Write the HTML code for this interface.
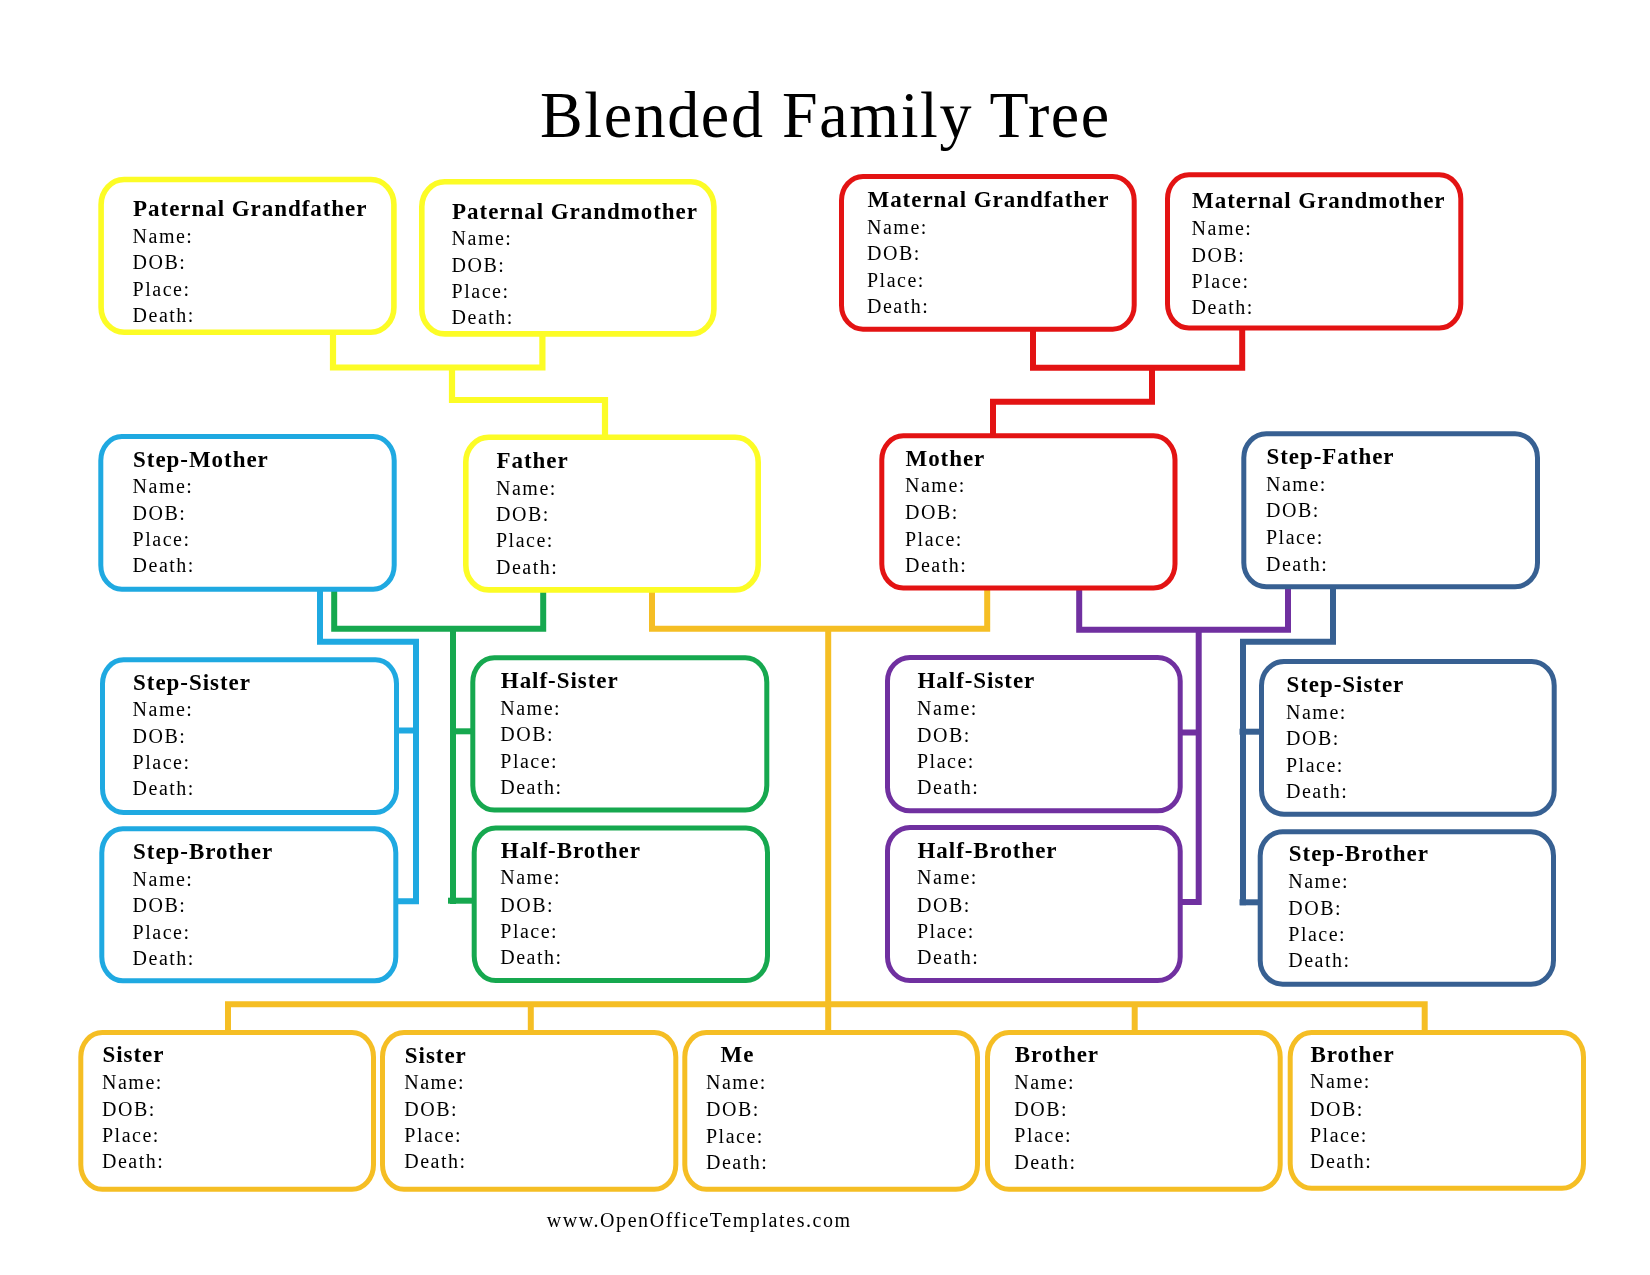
<!DOCTYPE html>
<html><head><meta charset="utf-8"><title>Blended Family Tree</title>
<style>
html,body{margin:0;padding:0;background:#fff;}
body{width:1650px;height:1275px;position:relative;overflow:hidden;font-family:"Liberation Serif",serif;color:#000;}
svg{position:absolute;left:0;top:0;}
#txt{position:absolute;left:0;top:0;width:1650px;height:1275px;will-change:transform;}
.t{position:absolute;white-space:nowrap;}
</style></head><body>
<svg width="1650" height="1275" viewBox="0 0 1650 1275" fill="none" stroke-linejoin="miter" stroke-linecap="butt">
<polyline points="333.0,333.0 333.0,367.5 542.4,367.5 542.4,334.0" stroke="#fcfc26" stroke-width="6.2"/>
<polyline points="452.0,367.5 452.0,400.0 605.0,400.0 605.0,437.0" stroke="#fcfc26" stroke-width="6.2"/>
<polyline points="1033.0,329.0 1033.0,367.8 1242.2,367.8 1242.2,328.0" stroke="#e31313" stroke-width="6.0"/>
<polyline points="1152.0,367.8 1152.0,401.7 993.0,401.7 993.0,436.0" stroke="#e31313" stroke-width="6.0"/>
<polyline points="320.0,589.0 320.0,641.7 416.0,641.7 416.0,901.3 396.0,901.3" stroke="#1fa9e1" stroke-width="6.0"/>
<polyline points="397.0,730.5 416.0,730.5" stroke="#1fa9e1" stroke-width="6.0"/>
<polyline points="334.2,589.0 334.2,628.8 543.2,628.8 543.2,586.7" stroke="#16a84f" stroke-width="6.0"/>
<polyline points="453.0,628.8 453.0,904.0" stroke="#16a84f" stroke-width="6.0"/>
<polyline points="448.0,900.7 474.0,900.7" stroke="#16a84f" stroke-width="6.0"/>
<polyline points="453.0,731.3 473.0,731.3" stroke="#16a84f" stroke-width="6.0"/>
<polyline points="652.0,590.0 652.0,628.8 987.2,628.8 987.2,588.0" stroke="#f5be24" stroke-width="6.0"/>
<polyline points="828.2,628.8 828.2,1033.0" stroke="#f5be24" stroke-width="6.0"/>
<polyline points="228.0,1033.0 228.0,1004.2 1424.7,1004.2 1424.7,1033.0" stroke="#f5be24" stroke-width="6.0"/>
<polyline points="530.8,1004.2 530.8,1033.0" stroke="#f5be24" stroke-width="6.0"/>
<polyline points="1134.7,1004.2 1134.7,1033.0" stroke="#f5be24" stroke-width="6.0"/>
<polyline points="1079.2,588.0 1079.2,629.7 1288.0,629.7 1288.0,587.0" stroke="#7030a0" stroke-width="6.0"/>
<polyline points="1198.7,629.7 1198.7,902.0 1180.0,902.0" stroke="#7030a0" stroke-width="6.0"/>
<polyline points="1180.0,732.5 1198.7,732.5" stroke="#7030a0" stroke-width="6.0"/>
<polyline points="1333.0,587.0 1333.0,641.7 1243.0,641.7 1243.0,905.3" stroke="#376092" stroke-width="6.0"/>
<polyline points="1239.5,902.3 1260.0,902.3" stroke="#376092" stroke-width="6.0"/>
<polyline points="1239.5,731.7 1261.0,731.7" stroke="#376092" stroke-width="6.0"/>
<rect x="101.10" y="179.50" width="292.80" height="152.70" rx="23" ry="25" stroke="#fcfc26" stroke-width="5.6" fill="#fff"/>
<rect x="421.80" y="181.80" width="292.10" height="152.10" rx="23" ry="25" stroke="#fcfc26" stroke-width="5.6" fill="#fff"/>
<rect x="841.50" y="176.50" width="292.70" height="152.70" rx="21.5" ry="24" stroke="#e31313" stroke-width="5.0" fill="#fff"/>
<rect x="1167.50" y="174.80" width="293.30" height="153.20" rx="21.5" ry="24" stroke="#e31313" stroke-width="5.0" fill="#fff"/>
<rect x="100.80" y="436.50" width="293.40" height="152.70" rx="21" ry="24" stroke="#1fa9e1" stroke-width="5.0" fill="#fff"/>
<rect x="465.80" y="437.30" width="292.40" height="152.60" rx="23" ry="25" stroke="#fcfc26" stroke-width="5.6" fill="#fff"/>
<rect x="881.80" y="435.80" width="293.20" height="152.20" rx="21.5" ry="24" stroke="#e31313" stroke-width="5.0" fill="#fff"/>
<rect x="1243.80" y="433.80" width="293.70" height="153.00" rx="22.5" ry="24" stroke="#376092" stroke-width="5.0" fill="#fff"/>
<rect x="102.50" y="659.80" width="294.00" height="152.70" rx="21" ry="24" stroke="#1fa9e1" stroke-width="5.0" fill="#fff"/>
<rect x="472.80" y="657.80" width="294.00" height="152.30" rx="21.5" ry="24.5" stroke="#16a84f" stroke-width="5.0" fill="#fff"/>
<rect x="887.50" y="657.50" width="292.70" height="153.30" rx="22.5" ry="23.5" stroke="#7030a0" stroke-width="5.0" fill="#fff"/>
<rect x="1261.50" y="661.50" width="292.70" height="152.70" rx="22.5" ry="24" stroke="#376092" stroke-width="5.0" fill="#fff"/>
<rect x="101.80" y="828.70" width="294.00" height="152.10" rx="21" ry="24" stroke="#1fa9e1" stroke-width="5.0" fill="#fff"/>
<rect x="474.20" y="828.00" width="293.30" height="152.50" rx="21.5" ry="24.5" stroke="#16a84f" stroke-width="5.0" fill="#fff"/>
<rect x="887.50" y="827.50" width="292.70" height="153.00" rx="22.5" ry="23.5" stroke="#7030a0" stroke-width="5.0" fill="#fff"/>
<rect x="1260.20" y="831.80" width="293.30" height="152.40" rx="22.5" ry="24" stroke="#376092" stroke-width="5.0" fill="#fff"/>
<rect x="80.80" y="1032.50" width="292.70" height="156.70" rx="21.5" ry="24.5" stroke="#f5be24" stroke-width="5.0" fill="#fff"/>
<rect x="382.50" y="1032.50" width="293.30" height="156.70" rx="21.5" ry="24.5" stroke="#f5be24" stroke-width="5.0" fill="#fff"/>
<rect x="684.80" y="1032.50" width="292.70" height="156.70" rx="21.5" ry="24.5" stroke="#f5be24" stroke-width="5.0" fill="#fff"/>
<rect x="987.50" y="1032.50" width="292.70" height="156.70" rx="21.5" ry="24.5" stroke="#f5be24" stroke-width="5.0" fill="#fff"/>
<rect x="1290.20" y="1032.50" width="293.30" height="155.70" rx="21.5" ry="24.5" stroke="#f5be24" stroke-width="5.0" fill="#fff"/>
</svg>
<div id="txt">
<div class="t" style="left:540.00px;top:84.40px;font-size:64px;line-height:64px;letter-spacing:1.6px;transform-origin:0 53.5px;transform:scaleY(1.024);">Blended Family Tree</div>
<div class="t" style="left:133.10px;top:196.74px;font-size:23px;line-height:23px;letter-spacing:0.95px;font-weight:bold;">Paternal Grandfather</div>
<div class="t" style="left:132.60px;top:226.25px;font-size:20px;line-height:20px;letter-spacing:1.5px;">Name:</div>
<div class="t" style="left:132.60px;top:252.25px;font-size:20px;line-height:20px;letter-spacing:1.5px;">DOB:</div>
<div class="t" style="left:132.60px;top:279.25px;font-size:20px;line-height:20px;letter-spacing:1.5px;">Place:</div>
<div class="t" style="left:132.60px;top:305.25px;font-size:20px;line-height:20px;letter-spacing:1.5px;">Death:</div>
<div class="t" style="left:452.10px;top:199.74px;font-size:23px;line-height:23px;letter-spacing:0.95px;font-weight:bold;">Paternal Grandmother</div>
<div class="t" style="left:451.60px;top:228.25px;font-size:20px;line-height:20px;letter-spacing:1.5px;">Name:</div>
<div class="t" style="left:451.60px;top:255.25px;font-size:20px;line-height:20px;letter-spacing:1.5px;">DOB:</div>
<div class="t" style="left:451.60px;top:281.25px;font-size:20px;line-height:20px;letter-spacing:1.5px;">Place:</div>
<div class="t" style="left:451.60px;top:307.25px;font-size:20px;line-height:20px;letter-spacing:1.5px;">Death:</div>
<div class="t" style="left:867.50px;top:187.74px;font-size:23px;line-height:23px;letter-spacing:0.95px;font-weight:bold;">Maternal Grandfather</div>
<div class="t" style="left:867.00px;top:217.25px;font-size:20px;line-height:20px;letter-spacing:1.5px;">Name:</div>
<div class="t" style="left:867.00px;top:243.25px;font-size:20px;line-height:20px;letter-spacing:1.5px;">DOB:</div>
<div class="t" style="left:867.00px;top:270.25px;font-size:20px;line-height:20px;letter-spacing:1.5px;">Place:</div>
<div class="t" style="left:867.00px;top:296.25px;font-size:20px;line-height:20px;letter-spacing:1.5px;">Death:</div>
<div class="t" style="left:1192.10px;top:188.74px;font-size:23px;line-height:23px;letter-spacing:0.95px;font-weight:bold;">Maternal Grandmother</div>
<div class="t" style="left:1191.60px;top:218.25px;font-size:20px;line-height:20px;letter-spacing:1.5px;">Name:</div>
<div class="t" style="left:1191.60px;top:245.25px;font-size:20px;line-height:20px;letter-spacing:1.5px;">DOB:</div>
<div class="t" style="left:1191.60px;top:271.25px;font-size:20px;line-height:20px;letter-spacing:1.5px;">Place:</div>
<div class="t" style="left:1191.60px;top:297.25px;font-size:20px;line-height:20px;letter-spacing:1.5px;">Death:</div>
<div class="t" style="left:133.10px;top:447.74px;font-size:23px;line-height:23px;letter-spacing:0.95px;font-weight:bold;">Step-Mother</div>
<div class="t" style="left:132.60px;top:476.25px;font-size:20px;line-height:20px;letter-spacing:1.5px;">Name:</div>
<div class="t" style="left:132.60px;top:503.25px;font-size:20px;line-height:20px;letter-spacing:1.5px;">DOB:</div>
<div class="t" style="left:132.60px;top:529.25px;font-size:20px;line-height:20px;letter-spacing:1.5px;">Place:</div>
<div class="t" style="left:132.60px;top:555.25px;font-size:20px;line-height:20px;letter-spacing:1.5px;">Death:</div>
<div class="t" style="left:496.50px;top:448.74px;font-size:23px;line-height:23px;letter-spacing:0.95px;font-weight:bold;">Father</div>
<div class="t" style="left:496.00px;top:478.25px;font-size:20px;line-height:20px;letter-spacing:1.5px;">Name:</div>
<div class="t" style="left:496.00px;top:504.25px;font-size:20px;line-height:20px;letter-spacing:1.5px;">DOB:</div>
<div class="t" style="left:496.00px;top:530.25px;font-size:20px;line-height:20px;letter-spacing:1.5px;">Place:</div>
<div class="t" style="left:496.00px;top:557.25px;font-size:20px;line-height:20px;letter-spacing:1.5px;">Death:</div>
<div class="t" style="left:905.50px;top:446.74px;font-size:23px;line-height:23px;letter-spacing:0.95px;font-weight:bold;">Mother</div>
<div class="t" style="left:905.00px;top:475.25px;font-size:20px;line-height:20px;letter-spacing:1.5px;">Name:</div>
<div class="t" style="left:905.00px;top:502.25px;font-size:20px;line-height:20px;letter-spacing:1.5px;">DOB:</div>
<div class="t" style="left:905.00px;top:529.25px;font-size:20px;line-height:20px;letter-spacing:1.5px;">Place:</div>
<div class="t" style="left:905.00px;top:555.25px;font-size:20px;line-height:20px;letter-spacing:1.5px;">Death:</div>
<div class="t" style="left:1266.50px;top:444.74px;font-size:23px;line-height:23px;letter-spacing:0.95px;font-weight:bold;">Step-Father</div>
<div class="t" style="left:1266.00px;top:474.25px;font-size:20px;line-height:20px;letter-spacing:1.5px;">Name:</div>
<div class="t" style="left:1266.00px;top:500.25px;font-size:20px;line-height:20px;letter-spacing:1.5px;">DOB:</div>
<div class="t" style="left:1266.00px;top:527.25px;font-size:20px;line-height:20px;letter-spacing:1.5px;">Place:</div>
<div class="t" style="left:1266.00px;top:554.25px;font-size:20px;line-height:20px;letter-spacing:1.5px;">Death:</div>
<div class="t" style="left:133.10px;top:670.74px;font-size:23px;line-height:23px;letter-spacing:0.95px;font-weight:bold;">Step-Sister</div>
<div class="t" style="left:132.60px;top:699.25px;font-size:20px;line-height:20px;letter-spacing:1.5px;">Name:</div>
<div class="t" style="left:132.60px;top:726.25px;font-size:20px;line-height:20px;letter-spacing:1.5px;">DOB:</div>
<div class="t" style="left:132.60px;top:752.25px;font-size:20px;line-height:20px;letter-spacing:1.5px;">Place:</div>
<div class="t" style="left:132.60px;top:778.25px;font-size:20px;line-height:20px;letter-spacing:1.5px;">Death:</div>
<div class="t" style="left:500.80px;top:668.74px;font-size:23px;line-height:23px;letter-spacing:0.95px;font-weight:bold;">Half-Sister</div>
<div class="t" style="left:500.30px;top:698.25px;font-size:20px;line-height:20px;letter-spacing:1.5px;">Name:</div>
<div class="t" style="left:500.30px;top:724.25px;font-size:20px;line-height:20px;letter-spacing:1.5px;">DOB:</div>
<div class="t" style="left:500.30px;top:751.25px;font-size:20px;line-height:20px;letter-spacing:1.5px;">Place:</div>
<div class="t" style="left:500.30px;top:777.25px;font-size:20px;line-height:20px;letter-spacing:1.5px;">Death:</div>
<div class="t" style="left:917.50px;top:668.74px;font-size:23px;line-height:23px;letter-spacing:0.95px;font-weight:bold;">Half-Sister</div>
<div class="t" style="left:917.00px;top:698.25px;font-size:20px;line-height:20px;letter-spacing:1.5px;">Name:</div>
<div class="t" style="left:917.00px;top:725.25px;font-size:20px;line-height:20px;letter-spacing:1.5px;">DOB:</div>
<div class="t" style="left:917.00px;top:751.25px;font-size:20px;line-height:20px;letter-spacing:1.5px;">Place:</div>
<div class="t" style="left:917.00px;top:777.25px;font-size:20px;line-height:20px;letter-spacing:1.5px;">Death:</div>
<div class="t" style="left:1286.50px;top:672.74px;font-size:23px;line-height:23px;letter-spacing:0.95px;font-weight:bold;">Step-Sister</div>
<div class="t" style="left:1286.00px;top:702.25px;font-size:20px;line-height:20px;letter-spacing:1.5px;">Name:</div>
<div class="t" style="left:1286.00px;top:728.25px;font-size:20px;line-height:20px;letter-spacing:1.5px;">DOB:</div>
<div class="t" style="left:1286.00px;top:755.25px;font-size:20px;line-height:20px;letter-spacing:1.5px;">Place:</div>
<div class="t" style="left:1286.00px;top:781.25px;font-size:20px;line-height:20px;letter-spacing:1.5px;">Death:</div>
<div class="t" style="left:133.10px;top:839.74px;font-size:23px;line-height:23px;letter-spacing:0.95px;font-weight:bold;">Step-Brother</div>
<div class="t" style="left:132.60px;top:869.25px;font-size:20px;line-height:20px;letter-spacing:1.5px;">Name:</div>
<div class="t" style="left:132.60px;top:895.25px;font-size:20px;line-height:20px;letter-spacing:1.5px;">DOB:</div>
<div class="t" style="left:132.60px;top:922.25px;font-size:20px;line-height:20px;letter-spacing:1.5px;">Place:</div>
<div class="t" style="left:132.60px;top:948.25px;font-size:20px;line-height:20px;letter-spacing:1.5px;">Death:</div>
<div class="t" style="left:500.80px;top:838.74px;font-size:23px;line-height:23px;letter-spacing:0.95px;font-weight:bold;">Half-Brother</div>
<div class="t" style="left:500.30px;top:867.25px;font-size:20px;line-height:20px;letter-spacing:1.5px;">Name:</div>
<div class="t" style="left:500.30px;top:895.25px;font-size:20px;line-height:20px;letter-spacing:1.5px;">DOB:</div>
<div class="t" style="left:500.30px;top:921.25px;font-size:20px;line-height:20px;letter-spacing:1.5px;">Place:</div>
<div class="t" style="left:500.30px;top:947.25px;font-size:20px;line-height:20px;letter-spacing:1.5px;">Death:</div>
<div class="t" style="left:917.50px;top:838.74px;font-size:23px;line-height:23px;letter-spacing:0.95px;font-weight:bold;">Half-Brother</div>
<div class="t" style="left:917.00px;top:867.25px;font-size:20px;line-height:20px;letter-spacing:1.5px;">Name:</div>
<div class="t" style="left:917.00px;top:895.25px;font-size:20px;line-height:20px;letter-spacing:1.5px;">DOB:</div>
<div class="t" style="left:917.00px;top:921.25px;font-size:20px;line-height:20px;letter-spacing:1.5px;">Place:</div>
<div class="t" style="left:917.00px;top:947.25px;font-size:20px;line-height:20px;letter-spacing:1.5px;">Death:</div>
<div class="t" style="left:1288.80px;top:841.74px;font-size:23px;line-height:23px;letter-spacing:0.95px;font-weight:bold;">Step-Brother</div>
<div class="t" style="left:1288.30px;top:871.25px;font-size:20px;line-height:20px;letter-spacing:1.5px;">Name:</div>
<div class="t" style="left:1288.30px;top:898.25px;font-size:20px;line-height:20px;letter-spacing:1.5px;">DOB:</div>
<div class="t" style="left:1288.30px;top:924.25px;font-size:20px;line-height:20px;letter-spacing:1.5px;">Place:</div>
<div class="t" style="left:1288.30px;top:950.25px;font-size:20px;line-height:20px;letter-spacing:1.5px;">Death:</div>
<div class="t" style="left:102.50px;top:1042.74px;font-size:23px;line-height:23px;letter-spacing:0.95px;font-weight:bold;">Sister</div>
<div class="t" style="left:102.00px;top:1072.25px;font-size:20px;line-height:20px;letter-spacing:1.5px;">Name:</div>
<div class="t" style="left:102.00px;top:1099.25px;font-size:20px;line-height:20px;letter-spacing:1.5px;">DOB:</div>
<div class="t" style="left:102.00px;top:1125.25px;font-size:20px;line-height:20px;letter-spacing:1.5px;">Place:</div>
<div class="t" style="left:102.00px;top:1151.25px;font-size:20px;line-height:20px;letter-spacing:1.5px;">Death:</div>
<div class="t" style="left:404.80px;top:1043.74px;font-size:23px;line-height:23px;letter-spacing:0.95px;font-weight:bold;">Sister</div>
<div class="t" style="left:404.30px;top:1072.25px;font-size:20px;line-height:20px;letter-spacing:1.5px;">Name:</div>
<div class="t" style="left:404.30px;top:1099.25px;font-size:20px;line-height:20px;letter-spacing:1.5px;">DOB:</div>
<div class="t" style="left:404.30px;top:1125.25px;font-size:20px;line-height:20px;letter-spacing:1.5px;">Place:</div>
<div class="t" style="left:404.30px;top:1151.25px;font-size:20px;line-height:20px;letter-spacing:1.5px;">Death:</div>
<div class="t" style="left:720.50px;top:1042.74px;font-size:23px;line-height:23px;letter-spacing:0.95px;font-weight:bold;">Me</div>
<div class="t" style="left:706.00px;top:1072.25px;font-size:20px;line-height:20px;letter-spacing:1.5px;">Name:</div>
<div class="t" style="left:706.00px;top:1099.25px;font-size:20px;line-height:20px;letter-spacing:1.5px;">DOB:</div>
<div class="t" style="left:706.00px;top:1126.25px;font-size:20px;line-height:20px;letter-spacing:1.5px;">Place:</div>
<div class="t" style="left:706.00px;top:1152.25px;font-size:20px;line-height:20px;letter-spacing:1.5px;">Death:</div>
<div class="t" style="left:1014.80px;top:1042.74px;font-size:23px;line-height:23px;letter-spacing:0.95px;font-weight:bold;">Brother</div>
<div class="t" style="left:1014.30px;top:1072.25px;font-size:20px;line-height:20px;letter-spacing:1.5px;">Name:</div>
<div class="t" style="left:1014.30px;top:1099.25px;font-size:20px;line-height:20px;letter-spacing:1.5px;">DOB:</div>
<div class="t" style="left:1014.30px;top:1125.25px;font-size:20px;line-height:20px;letter-spacing:1.5px;">Place:</div>
<div class="t" style="left:1014.30px;top:1152.25px;font-size:20px;line-height:20px;letter-spacing:1.5px;">Death:</div>
<div class="t" style="left:1310.50px;top:1042.74px;font-size:23px;line-height:23px;letter-spacing:0.95px;font-weight:bold;">Brother</div>
<div class="t" style="left:1310.00px;top:1071.25px;font-size:20px;line-height:20px;letter-spacing:1.5px;">Name:</div>
<div class="t" style="left:1310.00px;top:1099.25px;font-size:20px;line-height:20px;letter-spacing:1.5px;">DOB:</div>
<div class="t" style="left:1310.00px;top:1125.25px;font-size:20px;line-height:20px;letter-spacing:1.5px;">Place:</div>
<div class="t" style="left:1310.00px;top:1151.25px;font-size:20px;line-height:20px;letter-spacing:1.5px;">Death:</div>
<div class="t" style="left:546.70px;top:1210.25px;font-size:20px;line-height:20px;letter-spacing:1.58px;">www.OpenOfficeTemplates.com</div>
</div>
</body></html>
